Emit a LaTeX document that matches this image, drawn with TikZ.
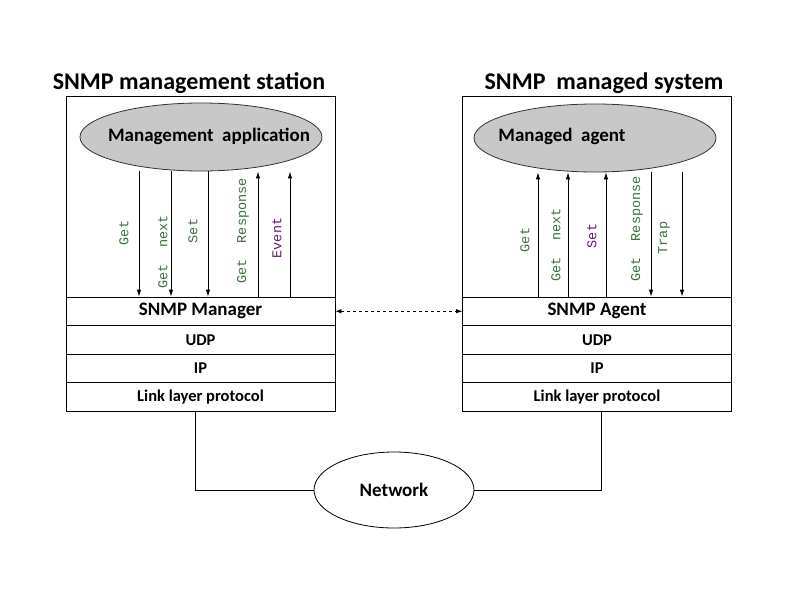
\documentclass[tikz,border=0pt]{standalone}
\usepackage{fontspec}
\setmainfont{Carlito}
\newfontfamily\monofont{Liberation Mono}
\usetikzlibrary{arrows.meta, positioning, shapes.geometric}
\definecolor{labgreen}{RGB}{58,112,58}
\definecolor{labpurple}{RGB}{96,28,106}
\definecolor{appgray}{RGB}{200,200,200}
\tikzset{
  frame/.style={rectangle, draw, minimum width=269pt, minimum height=201pt, inner sep=0pt},
  layer/.style={rectangle, draw, minimum width=269pt, minimum height=28.5pt,
    inner sep=0pt, font=\bfseries\fontsize{16.5}{16.5}\selectfont},
  toplayer/.style={layer, font=\bfseries\fontsize{19}{19}\selectfont},
  app/.style={ellipse, draw=black!80, fill=appgray, minimum width=242pt,
    minimum height=68pt, inner sep=0pt},
  apptext/.style={font=\bfseries\fontsize{19}{19}\selectfont},
  title/.style={font=\bfseries\fontsize{24}{24}\selectfont},
  msg/.style={rotate=90, font=\monofont\fontsize{13.5}{13.5}\selectfont, inner sep=0pt},
  arrow/.style={-{Latex[length=7pt,width=4.5pt]}, line width=0.8pt},
  darrow/.style={{Latex[length=6pt,width=4.5pt]}-{Latex[length=6pt,width=4.5pt]},
    dashed, line width=0.7pt},
  wire/.style={line width=0.8pt},
}

\begin{document}
\begin{tikzpicture}[x=1pt, y=-1pt, line width=0.8pt]
\useasboundingbox (0,0) rectangle (810,604);

%% ---- MANAGEMENT STATION ----
\node[title] (ltitle) at (189,83) {SNMP management station};
\node[frame] (lframe) at (200.5,196.5) {};
\node[app] (lapp) at (201,137) {};
\node[apptext] (lapptext) at (209,136) {Management\ \ application};
\node[toplayer, below=-0.8pt of lframe] (lmgr)  {SNMP Manager};
\node[layer,    below=-0.8pt of lmgr]   (ludp)  {UDP};
\node[layer,    below=-0.8pt of ludp]   (lip)   {IP};
\node[layer,    below=-0.8pt of lip]    (llink) {Link layer protocol};

% requests go down, answers come up
\foreach \dx [count=\i] in {-62,-30,7} {
  \coordinate (lreq\i) at ([xshift=\dx pt]lapp.south);
  \draw[arrow] (lreq\i) -- (lreq\i |- lmgr.north);
}
\foreach \dx [count=\i] in {57,89} {
  \coordinate (lans\i) at ([xshift=\dx pt]lapp.south);
  \draw[arrow] (lans\i |- lmgr.north) -- (lans\i);
}
\foreach \lx/\ly/\txt/\col [count=\i] in {
    124/233/Get/labgreen, 163/252/Get\ \ next/labgreen, 193/231/Set/labgreen,
    243/231/Get\ \ Response/labgreen, 277/238/Event/labpurple} {
  \node[msg, text=\col] (lmsg\i) at (\lx,\ly) {\txt};
}

%% ---- MANAGED SYSTEM ----
\node[title] (rtitle) at (604,83) {SNMP\ \ managed system};
\node[frame] (rframe) at (597,196.5) {};
\node[app] (rapp) at (595,138) {};
\node[apptext] (rapptext) at (562,136) {Managed\ \ agent};
\node[toplayer, below=-0.8pt of rframe] (rmgr)  {SNMP Agent};
\node[layer,    below=-0.8pt of rmgr]   (rudp)  {UDP};
\node[layer,    below=-0.8pt of rudp]   (rip)   {IP};
\node[layer,    below=-0.8pt of rip]    (rlink) {Link layer protocol};

\foreach \dx [count=\i] in {-57,-27,11} {
  \coordinate (rreq\i) at ([xshift=\dx pt]rapp.south);
  \draw[arrow] (rreq\i |- rmgr.north) -- (rreq\i);
}
\foreach \dx [count=\i] in {56,87} {
  \coordinate (rans\i) at ([xshift=\dx pt]rapp.south);
  \draw[arrow] (rans\i) -- (rans\i |- rmgr.north);
}
\foreach \lx/\ly/\txt/\col [count=\i] in {
    525/240/Get/labgreen, 556/245/Get\ \ next/labgreen, 592/236/Set/labpurple,
    637/229/Get\ \ Response/labgreen, 664/238/Trap/labgreen} {
  \node[msg, text=\col] (rmsg\i) at (\lx,\ly) {\txt};
}

%% ---- PEER LINK + NETWORK ----
\draw[darrow] (lmgr.east) -- (rmgr.west);

\node[ellipse, draw, minimum width=160pt, minimum height=76pt,
      font=\bfseries\fontsize{19}{19}\selectfont] (net) at (394,490) {Network};
\coordinate (ldrop) at ([xshift=-5pt]llink.south);
\coordinate (rdrop) at ([xshift=4pt]rlink.south);
\draw[wire] (ldrop) |- (net.west);
\draw[wire] (rdrop) |- (net.east);

\end{tikzpicture}
\end{document}
